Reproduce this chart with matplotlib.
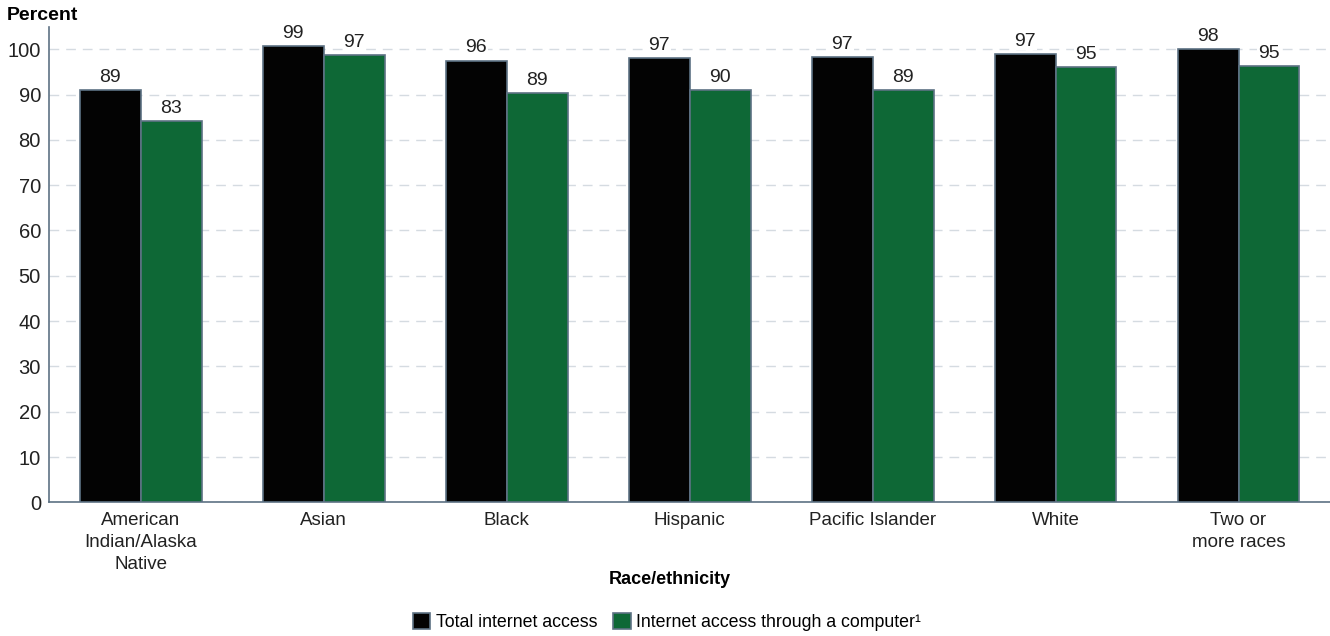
import matplotlib.pyplot as plt
import numpy as np

plt.rcParams['font.family'] = ['Liberation Sans', 'DejaVu Sans']

groups = ["American\nIndian/Alaska\nNative", "Asian", "Black", "Hispanic",
          "Pacific Islander", "White", "Two or\nmore races"]
# bar heights as drawn in the picture, and the printed labels
total_h = [90.9, 100.7, 97.5, 98.1, 98.2, 99.0, 100.1]
computer_h = [84.2, 98.7, 90.4, 91.0, 90.9, 96.1, 96.3]
total_lbl = [89, 99, 96, 97, 97, 97, 98]
computer_lbl = [83, 97, 89, 90, 89, 95, 95]
yticks = [0, 10, 20, 30, 40, 50, 60, 70, 80, 90, 100]

black = '#030303'
green = '#0e6836'
edge = '#5d7284'

fig = plt.figure(figsize=(13.3, 6.36), dpi=100)
ax = fig.add_axes([0.037, 0.2102, 0.963, 0.748])

x = np.arange(len(groups))
w = 0.333
b1 = ax.bar(x - w/2, total_h, w, color=black, edgecolor=edge, linewidth=1.2,
            label='Total internet access', zorder=3)
b2 = ax.bar(x + w/2, computer_h, w, color=green, edgecolor=edge, linewidth=1.2,
            label='Internet access through a computer¹', zorder=3)

for bars, lbls in ((b1, total_lbl), (b2, computer_lbl)):
    for r, v in zip(bars, lbls):
        ax.annotate(str(v), (r.get_x() + r.get_width()/2, r.get_height()),
                    xytext=(0, 3), textcoords='offset points', ha='center', va='bottom',
                    fontsize=14, color='#222222', zorder=4,
                    bbox=dict(facecolor='white', edgecolor='none', pad=0.5))

ax.set_xlim(-0.5, len(groups) - 0.5)
ax.set_ylim(0, 105)
ax.set_yticks(yticks)
ax.set_xticks(x)
ax.set_xticklabels(groups, fontsize=13.5, linespacing=1.4)
ax.tick_params(axis='both', length=0, colors='#222222')
ax.tick_params(axis='x', pad=7)
ax.tick_params(axis='y', pad=6, labelsize=14.5)
ax.yaxis.grid(True, color='#d5dbe1', linestyle=(0, (7, 5)), linewidth=1, zorder=0)
for s in ['top', 'right']:
    ax.spines[s].set_visible(False)
for s in ['left', 'bottom']:
    ax.spines[s].set_color(edge)
    ax.spines[s].set_linewidth(1.2)

fig.text(0.005, 0.976, 'Percent', fontsize=14, fontweight='bold', ha='left', va='center')
fig.text(670/1330, 1 - 580/636, 'Race/ethnicity', fontsize=13, fontweight='bold',
         ha='center', va='center')

fig.legend(handles=[b1, b2], loc='center', bbox_to_anchor=(667/1330, 1 - 622/636),
           ncol=2, frameon=False, fontsize=12.8, handlelength=1.0, handleheight=1.0,
           handletextpad=0.3, columnspacing=0.9)

fig.savefig('out.png', dpi=100)
